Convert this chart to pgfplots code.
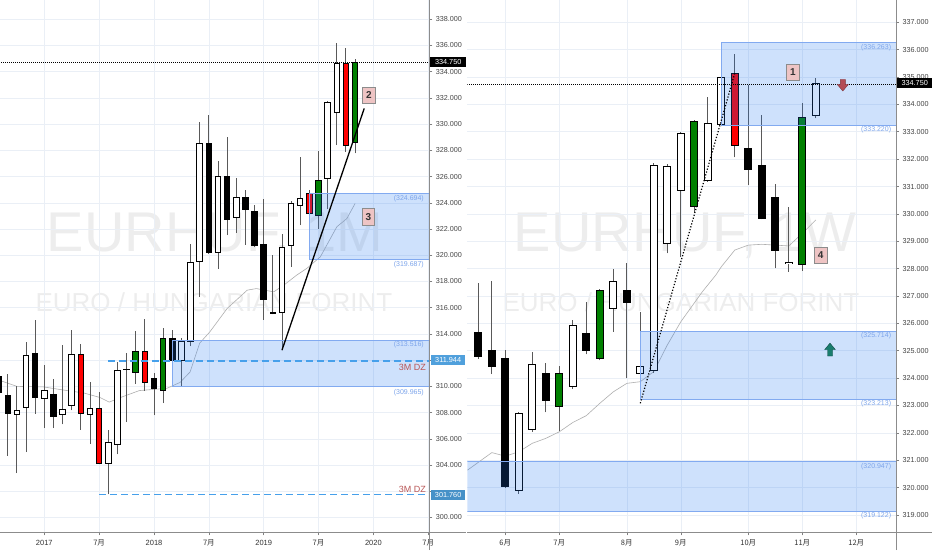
\documentclass[border=0pt]{standalone}
\usepackage{pgfplots}
\pgfplotsset{compat=1.18}
\usepackage{pgfplotstable}
\usepackage{fontspec}
\setmainfont{Liberation Sans}
\newfontfamily\cjk{Noto Sans CJK SC}

\definecolor{tvgrid}{RGB}{234,239,246}
\definecolor{tvtext}{RGB}{70,70,70}
\definecolor{tvgreen}{RGB}{0,128,0}
\definecolor{tvred}{RGB}{255,0,0}
\definecolor{boxfill}{RGB}{33,120,243}
\definecolor{boxedge}{RGB}{130,170,240}
\definecolor{boxlbl}{RGB}{125,165,235}
\definecolor{dzblue}{RGB}{70,160,235}
\definecolor{dzred}{RGB}{185,85,85}
\definecolor{tagpink}{RGB}{238,196,196}
\definecolor{tagblue}{RGB}{80,160,220}
\definecolor{tagblue2}{RGB}{70,145,200}
\definecolor{magrey}{RGB}{175,175,175}
\definecolor{arrred}{RGB}{180,75,85}
\definecolor{arrteal}{RGB}{25,125,110}

% monthly candles, x = months since Jan 2017
\pgfplotstableread{
x o h l c
-5 310.79 311.30 309.00 309.50
-4 309.32 310.92 304.69 307.87
-1 312.55 315.09 307.92 309.14
1 309.39 310.54 306.82 307.66
12 310.64 311.02 307.79 309.83
14 313.70 314.33 310.21 311.94
18 328.53 330.69 320.08 320.21
20 326.04 329.04 321.53 322.68
22 324.41 324.97 320.80 323.44
23 323.39 323.80 320.60 320.72
24 320.85 324.26 315.10 316.57
}\LBlack
\pgfplotstableread{
x o h l c
-3 307.84 310.00 303.39 308.17
-2 308.38 313.39 304.99 312.42
0 309.01 311.61 306.82 309.70
2 307.84 313.14 307.10 308.25
3 308.48 314.28 308.17 312.50
5 307.79 310.34 305.63 308.38
7 304.10 306.65 301.76 305.76
8 305.55 311.86 304.81 311.28
9 311.25 312.58 307.28 311.35
15 311.94 313.72 309.96 313.47
16 313.39 320.85 313.06 319.45
17 319.45 330.13 316.83 328.53
19 320.21 327.20 318.99 326.04
21 322.88 325.90 321.70 324.41
25 315.55 320.01 315.50 315.65
26 315.63 321.61 312.76 320.64
27 320.69 324.13 319.12 323.95
28 323.75 327.50 322.30 324.38
31 325.81 331.80 323.50 331.71
32 330.82 336.22 328.40 334.69
}\LWhite
\pgfplotstableread{
x o h l c
4 312.50 313.26 306.70 307.87
6 308.35 309.57 304.05 304.10
11 312.70 315.12 309.65 310.29
29 324.72 324.97 323.00 323.14
33 334.64 335.78 327.90 328.35
}\LRed
\pgfplotstableread{
x o h l c
10 311.02 314.20 310.21 312.70
13 309.65 314.46 308.73 313.72
30 322.98 327.95 322.04 325.73
34 328.53 334.94 327.77 334.75
}\LGreen

% weekly candles, x = weeks since 3 Jun 2019
\pgfplotstableread{
x o h l c
-2 325.70 327.46 324.70 324.78
-1 325.03 327.55 324.15 324.42
0 324.72 325.03 320.00 320.01
3 324.17 324.54 322.75 323.16
6 325.66 326.79 324.87 324.99
9 327.22 328.19 323.99 326.76
18 332.40 334.71 331.06 331.60
19 331.79 333.61 329.80 329.81
20 330.61 331.08 328.01 328.64
}\RBlack
\pgfplotstableread{
x o h l c
1 319.89 322.75 319.77 322.71
2 322.09 324.94 322.05 324.50
5 323.67 326.12 323.60 325.96
8 326.51 327.97 325.70 327.55
10 324.15 326.40 323.24 324.45
11 324.26 331.85 324.20 331.79
12 328.89 331.82 328.56 331.75
13 330.84 333.00 328.44 332.97
15 331.20 334.28 331.18 333.31
16 333.25 335.05 333.20 335.01
21 328.18 330.27 327.89 328.26
23 333.57 334.98 333.49 334.77
}\RWhite
\pgfplotstableread{
x o h l c
17 335.14 335.84 332.07 332.49
}\RRed
\pgfplotstableread{
x o h l c
4 322.96 324.45 322.07 324.20
7 324.69 327.25 324.65 327.22
14 330.24 333.43 330.02 333.39
22 328.13 334.04 327.93 333.53
}\RGreen

% #1 table, #2 body width, #3 inner width, #4 inner colour, #5 one pixel in y units
\newcommand{\candles}[5]{%
  \addplot[draw=none, mark=none, forget plot,
    error bars/.cd, y dir=plus, y explicit, error mark=none,
    error bar style={line width=0.9pt, draw=black!65}]
    table[x=x, y=l, y error expr={\thisrow{h}-\thisrow{l}}] {#1};
  \addplot[draw=none, mark=none, forget plot,
    error bars/.cd, y dir=both, y explicit, error mark=none,
    error bar style={line width=#2, draw=black}]
    table[x=x, y expr={(\thisrow{o}+\thisrow{c})/2},
      y error expr={max(abs(\thisrow{o}-\thisrow{c})/2,#5/2)}] {#1};
  \addplot[draw=none, mark=none, forget plot,
    error bars/.cd, y dir=both, y explicit, error mark=none,
    error bar style={line width=#3, draw=#4}]
    table[x=x, y expr={(\thisrow{o}+\thisrow{c})/2},
      y error expr={max(abs(\thisrow{o}-\thisrow{c})/2-#5,0)}] {#1};
}

\pgfplotsset{
  tv/.style={
    scale only axis, anchor=south west,
    axis line style={draw=none},
    major tick length=3pt, tick align=outside,
    tick style={black!50, line width=0.6pt},
    xtick pos=bottom, ytick pos=right,
    grid=major, grid style={tvgrid, line width=0.6pt},
    yticklabel pos=right,
    y tick label style={anchor=west, xshift=0pt, text=tvtext,
      font=\fontsize{7.2}{8}\selectfont,
      /pgf/number format/.cd, fixed, fixed zerofill, precision=3,
      1000 sep={}, assume math mode=true},
    x tick label style={anchor=base, yshift=-9.8pt, text=black!80,
      font=\fontsize{7.5}{8}\selectfont},
  },
  box/.style={fill=boxfill, fill opacity=0.22, draw=boxedge, line width=0.8pt},
}

\begin{document}
\begin{tikzpicture}[x=1pt,y=1pt]
\useasboundingbox (0,0) rectangle (932,550);
\fill[white] (0,0) rectangle (932,550);

% watermarks
\node[text=black, opacity=0.07, font=\fontsize{56}{60}\selectfont] at (215,314) {EURHUF, 1M};
\node[text=black, opacity=0.07, font=\fontsize{26}{30}\selectfont] at (214,248) {EURO / HUNGARIAN FORINT};
\node[text=black, opacity=0.07, font=\fontsize{56}{60}\selectfont] at (685,314) {EURHUF, 1W};
\node[text=black, opacity=0.07, font=\fontsize{26}{30}\selectfont] at (681,248) {EURO / HUNGARIAN FORINT};

% ---- monthly panel
\begin{axis}[tv, at={(0pt,17.7pt)}, width=429.3pt, height=532.3pt,
  xmin=-4.85, xmax=42.12, ymin=298.87, ymax=339.47,
  xtick={0,6,12,18,24,30,36,42},
  xticklabels={2017,{\cjk 7月},2018,{\cjk 7月},2019,{\cjk 7月},2020,{\cjk 7月}},
  ytick={300,304,306,308,310,314,316,318,320,322,324,326,328,330,332,334,336,338},
  extra y ticks={302,312}, extra y tick labels={},
  extra y tick style={grid=major}]
\addplot[magrey, line width=0.6pt] coordinates {(-4.85,310.45) (-3.0,310.0) (-0.1,309.96) (2.1,309.72)
  (4.3,309.5) (6.1,309.15) (7.1,308.8) (8.4,309.17) (10.4,309.68) (13.4,309.85) (14.85,310.3)
  (15.95,311.1) (17.0,313.3) (18.1,314.15) (20.0,315.94) (22.2,317.34) (23.2,317.46) (25.1,317.21)
  (26.2,317.72) (27.6,318.48) (28.7,318.99) (30.2,319.88) (32.0,322.17) (33.1,322.8) (34.0,323.95)};
\candles{\LBlack}{6.5pt}{4.5pt}{black}{0.0763}
\candles{\LWhite}{6.5pt}{4.5pt}{white}{0.0763}
\candles{\LRed}{6.5pt}{4.5pt}{tvred}{0.0763}
\candles{\LGreen}{6.5pt}{4.5pt}{tvgreen}{0.0763}
\addplot[box] coordinates {(29,319.687) (45,319.687) (45,324.694) (29,324.694) (29,319.687)};
\addplot[box] coordinates {(14,309.965) (45,309.965) (45,313.516) (14,313.516) (14,309.965)};
\addplot[dzblue, line width=1.3pt, dash pattern=on 7pt off 4pt] coordinates {(7,311.944) (45,311.944)};
\addplot[dzblue, line width=1.3pt, dash pattern=on 7pt off 4pt] coordinates {(6,301.76) (45,301.76)};
\addplot[black, line width=1.3pt] coordinates {(26,312.76) (35,331.2)};
\addplot[black, line width=0.5pt, dash pattern=on 1pt off 1pt] coordinates {(-6,334.75) (45,334.75)};
\end{axis}

% ---- weekly panel
\begin{axis}[tv, at={(467.3pt,17.7pt)}, width=428.7pt, height=532.3pt,
  xmin=-2.815, xmax=28.94, ymin=318.368, ymax=337.815,
  xtick={0,4,9,13,18,22,26},
  xticklabels={{\cjk 6月},{\cjk 7月},{\cjk 8月},{\cjk 9月},{\cjk 10月},{\cjk 11月},{\cjk 12月}},
  ytick={319,320,...,337}]
\addplot[magrey, line width=0.6pt] coordinates {(-2.8,320.64) (-1,321.28) (0,321.15) (1,321.31)
  (2,321.62) (3,321.8) (4,322.04) (5,322.38) (6,322.63) (7,323.08) (8,323.5) (9,323.81) (10,323.87)
  (11,324.24) (12,325.21) (13,326.06) (14.6,327.16) (15.6,327.77) (16,328.07) (17,328.68) (18,328.86)
  (19,328.89) (20,328.86) (21,328.83) (22,329.29) (23,329.78)};
\candles{\RBlack}{8pt}{6pt}{black}{0.0365}
\candles{\RWhite}{8pt}{6pt}{white}{0.0365}
\candles{\RRed}{8pt}{6pt}{tvred}{0.0365}
\candles{\RGreen}{8pt}{6pt}{tvgreen}{0.0365}
\addplot[box] coordinates {(16,333.22) (31,333.22) (31,336.263) (16,336.263) (16,333.22)};
\addplot[box] coordinates {(10,323.213) (31,323.213) (31,325.714) (10,325.714) (10,323.213)};
\addplot[box] coordinates {(-4,319.122) (31,319.122) (31,320.947) (-4,320.947) (-4,319.122)};
\addplot[black, line width=1.2pt, dash pattern=on 1.2pt off 1.8pt] coordinates {(10,323.08) (17,335.14)};
\addplot[black, line width=0.5pt, dash pattern=on 1pt off 1pt] coordinates {(-4,334.75) (31,334.75)};
\end{axis}

% scale borders
\draw[black!45, line width=0.6pt] (429.3,0) -- (429.3,550);
\draw[black!45, line width=0.6pt] (0,17.7) -- (466,17.7);
\draw[black!45, line width=0.6pt] (896.3,0) -- (896.3,550);
\draw[black!45, line width=0.6pt] (467.3,17.7) -- (932,17.7);

% zone price labels
\begin{scope}[font=\fontsize{7}{8}\selectfont, text=boxlbl, inner sep=0pt]
\node[anchor=east] at (424,351) {(324.694)};
\node[anchor=east] at (424,285.7) {(319.687)};
\node[anchor=east] at (424,205) {(313.516)};
\node[anchor=east] at (424,157.7) {(309.965)};
\node[anchor=east] at (891.3,502.3) {(336.263)};
\node[anchor=east] at (891.3,420) {(333.220)};
\node[anchor=east] at (891.3,214.3) {(325.714)};
\node[anchor=east] at (891.3,146) {(323.213)};
\node[anchor=east] at (891.3,83.3) {(320.947)};
\node[anchor=east] at (891.3,34.3) {(319.122)};
\end{scope}
\node[anchor=east, inner sep=0pt, text=dzred, font=\fontsize{9}{10}\selectfont] at (426,182.3) {3M DZ};
\node[anchor=east, inner sep=0pt, text=dzred, font=\fontsize{9}{10}\selectfont] at (426,60.5) {3M DZ};

% numbered tags
\begin{scope}[every node/.style={draw=black!45, fill=tagpink, line width=0.6pt, minimum width=12.5pt,
  minimum height=16.5pt, inner sep=0pt, text=black!80, font=\bfseries\fontsize{10}{12}\selectfont}]
\node at (368.8,454.7) {2};
\node at (368.3,333.3) {3};
\node at (793,477.5) {1};
\node at (820.7,294.7) {4};
\end{scope}

% arrows
\fill[arrred, draw=arrred!70!black, line width=0.4pt] (840.3,470.5) -- (845.3,470.5) -- (845.3,465.5)
  -- (848.3,465.5) -- (842.8,459) -- (837.3,465.5) -- (840.3,465.5) -- cycle;
\fill[arrteal, draw=arrteal!60!black, line width=0.4pt] (827.5,194) -- (832.5,194) -- (832.5,200.5)
  -- (835.3,200.5) -- (830,206.8) -- (824.7,200.5) -- (827.5,200.5) -- cycle;

% price tags
\begin{scope}[font=\fontsize{7.3}{8}\selectfont, text=white, inner sep=0pt, minimum height=10pt, anchor=west]
\node[fill=black, minimum width=36pt] at (430,488) {334.750};
\node[fill=black, minimum width=35pt] at (897,467) {334.750};
\node[fill=tagblue, minimum width=34.5pt] at (430.7,189.7) {311.944};
\node[fill=tagblue2, minimum width=34.5pt] at (430.7,55.3) {301.760};
\end{scope}
\end{tikzpicture}
\end{document}
